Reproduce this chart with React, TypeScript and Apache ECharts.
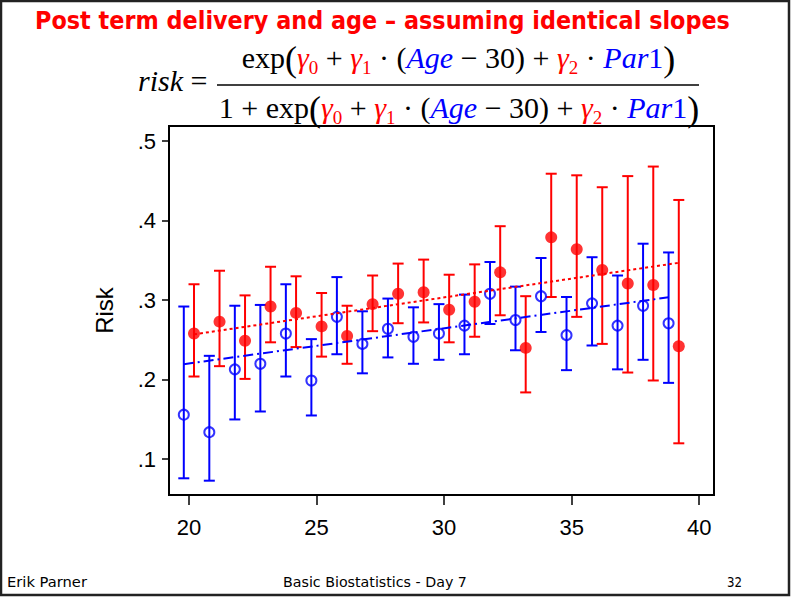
import React, { useEffect, useRef } from "react";
import * as echarts from "echarts";

// ---- data ----
const blueAge = [19.8, 20.8, 21.8, 22.8, 23.8, 24.8, 25.8, 26.8, 27.8, 28.8, 29.8, 30.8, 31.8, 32.8, 33.8, 34.8, 35.8, 36.8, 37.8, 38.8];
const blueRisk = [0.156, 0.134, 0.213, 0.220, 0.258, 0.199, 0.279, 0.245, 0.264, 0.254, 0.258, 0.268, 0.308, 0.275, 0.305, 0.256, 0.296, 0.268, 0.293, 0.271];
const blueLo = [0.076, 0.073, 0.150, 0.160, 0.204, 0.155, 0.232, 0.208, 0.228, 0.220, 0.225, 0.232, 0.270, 0.237, 0.260, 0.212, 0.243, 0.213, 0.225, 0.196];
const blueHi = [0.292, 0.230, 0.293, 0.294, 0.320, 0.251, 0.329, 0.286, 0.302, 0.291, 0.295, 0.307, 0.348, 0.317, 0.353, 0.304, 0.354, 0.331, 0.371, 0.360];

const redAge = [20.2, 21.2, 22.2, 23.2, 24.2, 25.2, 26.2, 27.2, 28.2, 29.2, 30.2, 31.2, 32.2, 33.2, 34.2, 35.2, 36.2, 37.2, 38.2, 39.2];
const redRisk = [0.258, 0.273, 0.249, 0.292, 0.284, 0.267, 0.255, 0.295, 0.308, 0.310, 0.288, 0.298, 0.335, 0.240, 0.379, 0.364, 0.338, 0.321, 0.319, 0.242];
const redLo = [0.204, 0.217, 0.201, 0.247, 0.241, 0.229, 0.220, 0.261, 0.271, 0.272, 0.247, 0.254, 0.281, 0.184, 0.304, 0.279, 0.245, 0.209, 0.199, 0.120];
const redHi = [0.320, 0.337, 0.306, 0.342, 0.330, 0.309, 0.293, 0.331, 0.346, 0.351, 0.332, 0.345, 0.393, 0.305, 0.459, 0.457, 0.442, 0.456, 0.468, 0.426];

const redFitAge = [20.2, 39.2];
const redFit = [0.257, 0.347];
const blueFitAge = [19.8, 38.8];
const blueFit = [0.2195, 0.3036];

const xTicks = [20, 25, 30, 35, 40];
const yTicks = [0.1, 0.2, 0.3, 0.4, 0.5];

const titleText = "Post term delivery and age \u2013 assuming identical slopes";
const yName = "Risk";
const footLeft = "Erik Parner";
const footMid = "Basic Biostatistics - Day 7";
const footRight = "32";

const numerator =
  "{n|exp}{p|(}{g|\u03b3}{s|0}{n| + }{g|\u03b3}{s|1}{n| \u00b7 (}{b|Age}{n| \u2212 30) + }{g|\u03b3}{s|2}{n| \u00b7 }{b|Par}{bn|1}{p|)}";
const denominator =
  "{n|1 + exp}{p|(}{g|\u03b3}{s|0}{n| + }{g|\u03b3}{s|1}{n| \u00b7 (}{b|Age}{n| \u2212 30) + }{g|\u03b3}{s|2}{n| \u00b7 }{b|Par}{bn|1}{p|)}";
const lhs = "{i|risk}{n| =}";

const SERIF = '"Liberation Serif","Times New Roman",serif';
const SANS = '"Liberation Sans",Arial,Helvetica,sans-serif';
const COMIC = '"DejaVu Sans",sans-serif';

function measure(text: string, font: string): number {
  const c = document.createElement("canvas").getContext("2d");
  if (!c) return 1;
  c.font = font;
  return c.measureText(text).width || 1;
}

const rich: any = {
  n: { fontFamily: SERIF, fontSize: 30, fill: "#000" },
  i: { fontFamily: SERIF, fontSize: 30, fontStyle: "italic", fill: "#000" },
  p: { fontFamily: SERIF, fontSize: 36, fill: "#000", padding: [3, 0, 0, 0] },
  g: { fontFamily: SERIF, fontSize: 30, fontStyle: "italic", fill: "#ff0000" },
  s: { fontFamily: SERIF, fontSize: 19, fill: "#ff0000", padding: [21, 0, 0, 0] },
  b: { fontFamily: SERIF, fontSize: 30, fontStyle: "italic", fill: "#0000ff" },
  bn: { fontFamily: SERIF, fontSize: 30, fill: "#0000ff" },
};

function errRender(color: string) {
  return (params: any, api: any) => {
    const x = api.value(0);
    const lo = api.value(1);
    const hi = api.value(2);
    const top = api.coord([x, hi]);
    const bot = api.coord([x, lo]);
    const hw = 5.5;
    const style = { stroke: color, lineWidth: 2, fill: "none" };
    return {
      type: "group",
      children: [
        { type: "line", shape: { x1: top[0], y1: top[1], x2: bot[0], y2: bot[1] }, style },
        { type: "line", shape: { x1: top[0] - hw, y1: top[1], x2: top[0] + hw, y2: top[1] }, style },
        { type: "line", shape: { x1: bot[0] - hw, y1: bot[1], x2: bot[0] + hw, y2: bot[1] }, style },
      ],
    };
  };
}

function textEl(text: string, font: string, size: number, weight: string, color: string, x: number, y: number, targetW: number, align: string) {
  const f = `${weight} ${size}px ${font}`;
  const w = measure(text, f);
  return {
    type: "text",
    x,
    y,
    scaleX: targetW / w,
    silent: true,
    style: {
      text,
      x: 0,
      y: 0,
      fontFamily: font,
      fontSize: size,
      fontWeight: weight,
      fill: color,
      align,
      textAlign: align,
      verticalAlign: "middle",
      textVerticalAlign: "middle",
    },
  };
}

export default function App() {
  const ref = useRef<HTMLDivElement>(null);
  useEffect(() => {
    if (!ref.current) return;
    const chart = echarts.init(ref.current, null, { renderer: "svg" });
    const option: any = {
      animation: false,
      backgroundColor: "#fff",
      grid: {
        left: 169,
        right: 77,
        top: 126,
        bottom: 102,
        show: true,
        borderColor: "#000",
        borderWidth: 2,
        backgroundColor: "#fff",
        containLabel: false,
        outerBoundsMode: "none",
      },
      xAxis: {
        type: "value",
        min: 19.22,
        max: 40.58,
        axisLine: { show: false },
        splitLine: { show: false },
        axisTick: { show: true, customValues: xTicks, length: 10, lineStyle: { color: "#000", width: 1.5 } },
        axisLabel: {
          show: true,
          customValues: xTicks,
          margin: 21,
          color: "#000",
          fontSize: 22,
          fontFamily: SANS,
          formatter: (v: number) => String(v),
        },
      },
      yAxis: {
        type: "value",
        min: 0.055,
        max: 0.519,
        axisLine: { show: false },
        splitLine: { show: false },
        axisTick: { show: true, customValues: yTicks, length: 7, lineStyle: { color: "#000", width: 1.5 } },
        axisLabel: {
          show: true,
          customValues: yTicks,
          margin: 13,
          color: "#000",
          fontSize: 22,
          fontFamily: SANS,
          formatter: (v: number) => v.toFixed(1).replace(/^0/, ""),
        },
        name: yName,
        nameLocation: "middle",
        nameRotate: 90,
        nameGap: 53,
        nameTextStyle: { color: "#000", fontSize: 24, fontFamily: SANS },
      },
      series: [
        {
          type: "custom",
          renderItem: errRender("#0000ff"),
          data: blueAge.map((a, i) => [a, blueLo[i], blueHi[i]]),
          encode: { x: 0, y: [1, 2] },
          z: 2,
        },
        {
          type: "scatter",
          data: blueAge.map((a, i) => [a, blueRisk[i]]),
          symbol: "circle",
          symbolSize: 10,
          itemStyle: { color: "rgba(0,0,0,0)", borderColor: "#0000ff", borderWidth: 2 },
          z: 3,
        },
        {
          type: "custom",
          renderItem: errRender("#ff0000"),
          data: redAge.map((a, i) => [a, redLo[i], redHi[i]]),
          encode: { x: 0, y: [1, 2] },
          z: 2,
        },
        {
          type: "scatter",
          data: redAge.map((a, i) => [a, redRisk[i]]),
          symbol: "circle",
          symbolSize: 12,
          itemStyle: { color: "#ff0000" },
          z: 3,
        },
        {
          type: "line",
          data: redFitAge.map((a, i) => [a, redFit[i]]),
          symbol: "none",
          lineStyle: { color: "#ff0000", width: 2, type: [3, 3] },
          z: 4,
        },
        {
          type: "line",
          data: blueFitAge.map((a, i) => [a, blueFit[i]]),
          symbol: "none",
          lineStyle: { color: "#0000ff", width: 2, type: [10, 4, 2, 4] },
          z: 4,
        },
      ],
      graphic: [
        {
          type: "rect",
          silent: true,
          shape: { x: 1, y: 1, width: 788, height: 594 },
          style: { fill: "none", stroke: "#222", lineWidth: 2.5 },
        },
        textEl(titleText, COMIC, 24, "bold", "#ff0000", 382.5, 20, 695, "center"),
        {
          type: "text",
          silent: true,
          x: 458.5,
          y: 57,
          style: { text: numerator, rich, lineHeight: 44, x: 0, y: 0, align: "center", textAlign: "center", verticalAlign: "middle", textVerticalAlign: "middle" },
        },
        {
          type: "text",
          silent: true,
          x: 459,
          y: 107,
          style: { text: denominator, rich, lineHeight: 44, x: 0, y: 0, align: "center", textAlign: "center", verticalAlign: "middle", textVerticalAlign: "middle" },
        },
        {
          type: "text",
          silent: true,
          x: 138,
          y: 80,
          style: { text: lhs, rich, lineHeight: 44, x: 0, y: 0, align: "left", textAlign: "left", verticalAlign: "middle", textVerticalAlign: "middle" },
        },
        {
          type: "line",
          silent: true,
          shape: { x1: 217, y1: 85, x2: 699, y2: 85 },
          style: { stroke: "#000", lineWidth: 1.5 },
        },
        textEl(footLeft, COMIC, 14, "normal", "#000", 7, 582, 80, "left"),
        textEl(footMid, COMIC, 14, "normal", "#000", 283, 582, 184, "left"),
        textEl(footRight, COMIC, 14, "normal", "#000", 742, 582, 15, "right"),
      ],
    };
    chart.setOption(option);
    return () => chart.dispose();
  }, []);
  return (
    <div
      ref={ref}
      style={{ position: "fixed", left: 0, top: 0, width: 791, height: 597, background: "#fff" }}
    />
  );
}
